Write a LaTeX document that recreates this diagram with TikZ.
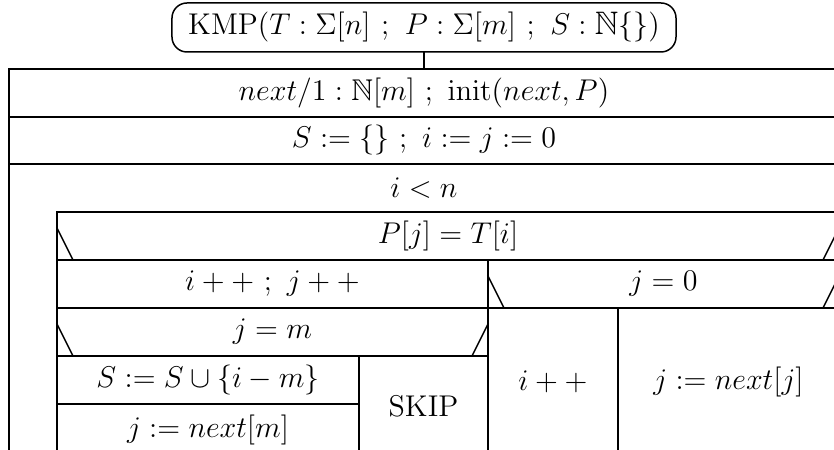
\documentclass[tikz,border=0pt]{standalone}
\usepackage{amssymb}
\begin{document}
\begin{tikzpicture}[x=0.4pt,y=-0.4pt,
  font=\fontsize{12}{14.4}\selectfont,
  ln/.style={line width=0.6pt, line cap=rect},
  txt/.style={inner sep=0pt, anchor=center},
  titlebox/.style={draw, line width=0.6pt, rounded corners=6pt, minimum width=201.6pt, minimum height=19.6pt, inner sep=0pt, font=\fontsize{13}{15.6}\selectfont}]
\useasboundingbox (0,0) rectangle (834,450);
\clip (0,0) rectangle (834,450);
% title
\node[titlebox] (title) at (424,27.5) {$\mathrm{KMP}(T:\Sigma[n]\ ;\ P:\Sigma[m]\ ;\ S:\mathbb{N}\{\})$};
\coordinate (top) at (424,69);
\draw[ln] (title.south) -- (top);
% outer box
\draw[ln] (9,470) -- (9,69) -- (845,69);
\draw[ln] (9,117) -- (845,117);
\draw[ln] (9,164) -- (845,164);
% loop body
\draw[ln] (57,470) -- (57,212) -- (845,212);
\draw[ln] (57,260) -- (845,260);
\draw[ln] (57,228) -- (73,260);
\draw[ln] (823,260) -- (839,228);
\draw[ln] (488,260) -- (488,470);
\draw[ln] (57,308) -- (845,308);
% j = 0
\draw[ln] (488,276) -- (504,308);
\draw[ln] (823,308) -- (839,276);
\draw[ln] (618,308) -- (618,470);
% j = m
\draw[ln] (57,324) -- (73,356);
\draw[ln] (472,356) -- (488,324);
\draw[ln] (57,356) -- (488,356);
\draw[ln] (359,356) -- (359,470);
\draw[ln] (57,404) -- (359,404);
% texts
\node[txt] (r1) at (424,93) {$next/1:\mathbb{N}[m]\ ;\ \mathrm{init}(next,P)$};
\node[txt] (r2) at (424,140.5) {$S:=\{\}\ ;\ i:=j:=0$};
\node[txt] (loop) at (424,188) {$i<n$};
\node[txt] (c1) at (448,236) {$P[j]=T[i]$};
\node[txt] (t1) at (272.5,284) {$i++\ ;\ j++$};
\node[txt] (c2) at (663.5,284) {$j=0$};
\node[txt] (c3) at (272.5,332) {$j=m$};
\node[txt] (s1) at (208,380) {$S:=S\cup\{i-m\}$};
\node[txt] (s2) at (208,430) {$j:=next[m]$};
\node[txt] (skip) at (423.5,406) {SKIP};
\node[txt] (inc) at (553,382) {$i++$};
\node[txt] (nx) at (728.5,382) {$j:=next[j]$};
\end{tikzpicture}
\end{document}
